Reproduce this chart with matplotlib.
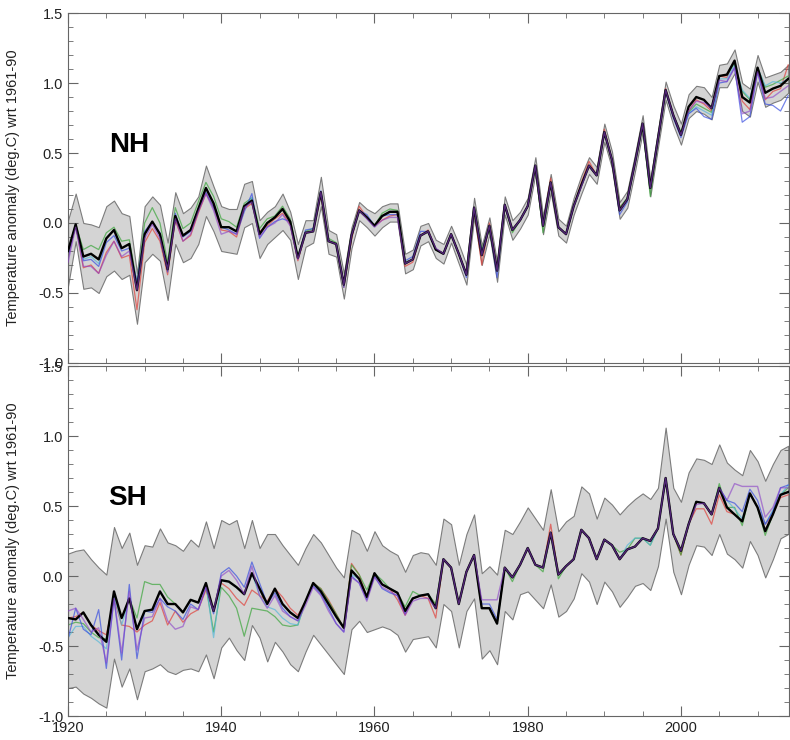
import numpy as np
import matplotlib.pyplot as plt
from matplotlib.ticker import MultipleLocator

plt.rcParams['font.family'] = ['Liberation Sans', 'DejaVu Sans']
plt.rcParams['axes.unicode_minus'] = False

years = np.arange(1920, 2015)

# Northern hemisphere: best estimate and uncertainty band
nh_mean = [-0.20, -0.01, -0.24, -0.22, -0.26, -0.11, -0.05, -0.18, -0.15, -0.48,
           -0.08, 0.01, -0.08, -0.33, 0.05, -0.09, -0.05, 0.10, 0.25, 0.14,
           -0.03, -0.03, -0.06, 0.12, 0.16, -0.08, 0.00, 0.04, 0.10, 0.01,
           -0.25, -0.07, -0.06, 0.22, -0.13, -0.15, -0.44, -0.09, 0.09, 0.04,
           -0.02, 0.05, 0.08, 0.08, -0.29, -0.26, -0.09, -0.06, -0.19, -0.22,
           -0.08, -0.22, -0.37, 0.11, -0.23, -0.02, -0.34, 0.13, -0.05, 0.02,
           0.12, 0.41, -0.02, 0.29, -0.03, -0.08, 0.12, 0.27, 0.41, 0.34,
           0.65, 0.45, 0.09, 0.17, 0.43, 0.71, 0.25, 0.60, 0.95, 0.77,
           0.63, 0.83, 0.90, 0.88, 0.82, 1.05, 1.06, 1.16, 0.90, 0.86,
           1.11, 0.93, 0.96, 0.98, 1.03]
nh_upper = [0.02, 0.21, 0.00, -0.01, -0.03, 0.12, 0.16, 0.07, 0.05, -0.36,
            0.12, 0.19, 0.13, -0.14, 0.22, 0.07, 0.11, 0.19, 0.41, 0.26,
            0.12, 0.10, 0.10, 0.28, 0.30, 0.02, 0.08, 0.12, 0.21, 0.08,
            -0.15, 0.02, 0.02, 0.33, -0.05, -0.08, -0.36, -0.03, 0.15, 0.10,
            0.07, 0.12, 0.14, 0.14, -0.22, -0.19, -0.02, 0.00, -0.12, -0.15,
            -0.02, -0.15, -0.30, 0.18, -0.16, 0.04, -0.28, 0.19, 0.02, 0.08,
            0.18, 0.47, 0.05, 0.35, 0.03, -0.02, 0.18, 0.34, 0.47, 0.40,
            0.71, 0.51, 0.15, 0.23, 0.49, 0.77, 0.31, 0.66, 1.01, 0.84,
            0.71, 0.92, 0.98, 0.97, 0.90, 1.13, 1.14, 1.24, 1.00, 0.96,
            1.20, 1.04, 1.06, 1.08, 1.13]
nh_lower = [-0.45, -0.13, -0.47, -0.46, -0.50, -0.38, -0.34, -0.40, -0.37, -0.72,
            -0.28, -0.22, -0.27, -0.55, -0.15, -0.28, -0.25, -0.15, 0.05, -0.06,
            -0.20, -0.21, -0.22, -0.03, 0.00, -0.25, -0.15, -0.10, -0.05, -0.12,
            -0.40, -0.17, -0.14, 0.12, -0.22, -0.24, -0.54, -0.18, 0.02, -0.03,
            -0.09, -0.03, 0.01, 0.01, -0.36, -0.33, -0.16, -0.13, -0.25, -0.29,
            -0.14, -0.29, -0.44, 0.04, -0.30, -0.08, -0.42, 0.06, -0.12, -0.04,
            0.06, 0.35, -0.08, 0.22, -0.09, -0.14, 0.06, 0.21, 0.35, 0.28,
            0.58, 0.39, 0.03, 0.11, 0.37, 0.65, 0.19, 0.54, 0.88, 0.70,
            0.56, 0.75, 0.80, 0.78, 0.74, 0.97, 0.97, 1.07, 0.80, 0.76,
            1.01, 0.83, 0.86, 0.88, 0.93]

# the other NH series, as differences from the black line
nh_red = [-0.05, 0.00, -0.08, -0.08, -0.10, -0.10, -0.08, -0.07, -0.08, -0.14,
          -0.06, -0.05, -0.05, -0.04, -0.03, -0.04, -0.04, -0.03, -0.04, -0.03,
          -0.02, -0.03, -0.04, -0.02, -0.02, 0.02, -0.02, -0.01, -0.03, -0.02,
          -0.02, 0.00, 0.00, -0.02, 0.00, 0.00, -0.02, -0.03, 0.03, 0.00,
          0.00, -0.03, -0.03, -0.02, -0.02, -0.02, 0.00, 0.01, 0.00, 0.00,
          0.00, 0.00, 0.00, -0.01, -0.07, 0.02, 0.00, 0.00, 0.00, 0.00,
          0.00, 0.00, 0.00, 0.03, 0.00, 0.00, 0.00, 0.02, 0.03, 0.00,
          0.02, 0.00, 0.02, 0.00, 0.00, 0.00, 0.00, 0.00, 0.01, 0.00,
          0.00, -0.03, -0.02, -0.03, -0.02, 0.00, -0.02, 0.00, -0.03, -0.05,
          0.00, -0.05, -0.02, -0.02, 0.10]
nh_green = [0.00, 0.00, 0.05, 0.06, 0.07, 0.04, 0.02, 0.05, 0.03, 0.05,
            0.08, 0.10, 0.08, 0.05, 0.06, 0.05, 0.05, 0.05, 0.04, 0.05,
            0.06, 0.04, 0.03, 0.02, 0.02, 0.04, 0.03, 0.01, 0.02, 0.02,
            0.01, 0.01, 0.02, 0.00, 0.02, 0.01, 0.00, 0.01, 0.00, 0.00,
            0.00, 0.02, 0.02, 0.01, 0.01, 0.00, 0.00, 0.00, 0.00, 0.00,
            0.00, 0.00, 0.00, 0.00, 0.04, -0.03, 0.00, 0.00, -0.02, 0.00,
            0.00, 0.00, -0.05, 0.00, 0.00, 0.00, 0.00, 0.00, 0.00, 0.00,
            0.00, 0.00, 0.02, 0.01, 0.00, -0.02, -0.06, 0.00, 0.00, 0.00,
            0.02, -0.04, -0.05, -0.06, -0.03, 0.00, 0.00, -0.02, 0.04, 0.02,
            0.00, 0.04, 0.03, 0.04, 0.02]
nh_cyan = [0.00, 0.00, -0.02, -0.02, -0.03, 0.00, 0.00, 0.00, 0.00, 0.00,
           0.00, 0.00, 0.00, 0.00, 0.00, 0.00, 0.00, 0.00, 0.00, 0.00,
           0.00, 0.00, 0.00, 0.00, 0.02, 0.00, 0.00, 0.00, 0.00, 0.00,
           0.00, 0.00, 0.00, 0.00, 0.00, 0.00, 0.00, 0.00, 0.00, 0.00,
           0.00, 0.00, 0.00, 0.00, 0.00, 0.00, 0.00, 0.00, 0.00, 0.00,
           0.00, 0.00, 0.00, 0.00, 0.00, 0.00, 0.00, 0.00, 0.00, 0.00,
           0.00, 0.00, 0.00, 0.00, 0.00, 0.00, 0.00, 0.00, 0.00, 0.00,
           0.00, 0.00, 0.00, 0.00, 0.00, 0.00, 0.00, 0.00, 0.00, 0.00,
           0.00, -0.05, -0.07, -0.08, -0.05, -0.02, -0.03, -0.03, 0.05, 0.03,
           0.00, 0.05, 0.05, 0.02, 0.00]
nh_blue = [-0.05, 0.00, -0.03, -0.04, -0.05, -0.03, -0.04, -0.02, -0.03, 0.06,
           0.02, 0.00, 0.01, -0.02, 0.02, -0.01, -0.01, 0.00, -0.03, -0.03,
           0.00, -0.02, -0.02, -0.04, 0.05, -0.03, -0.03, -0.03, -0.07, 0.00,
           0.00, 0.02, 0.02, 0.01, 0.00, 0.00, -0.02, 0.00, 0.00, 0.02,
           0.00, 0.00, -0.02, -0.02, 0.02, 0.02, 0.03, 0.00, 0.00, 0.00,
           0.00, 0.00, -0.02, 0.00, 0.02, 0.00, -0.05, 0.00, 0.00, 0.00,
           0.00, 0.00, 0.00, 0.00, 0.00, 0.00, 0.00, 0.00, 0.00, 0.00,
           0.00, 0.00, -0.03, -0.02, 0.00, 0.00, 0.00, 0.00, -0.01, -0.02,
           -0.02, -0.05, -0.08, -0.12, -0.08, -0.05, -0.05, -0.05, -0.18, -0.10,
           -0.03, -0.08, -0.12, -0.18, -0.12]
nh_purple = [-0.08, -0.02, -0.07, -0.09, -0.10, -0.12, -0.08, -0.06, -0.05, 0.00,
             -0.03, -0.02, -0.03, 0.00, -0.02, -0.04, -0.03, -0.02, -0.04, -0.05,
             -0.05, -0.03, -0.02, -0.01, -0.01, -0.02, -0.03, -0.04, -0.04, -0.03,
             -0.01, 0.00, 0.00, 0.00, 0.00, 0.00, 0.00, 0.00, 0.00, -0.01,
             -0.01, -0.03, -0.04, -0.04, 0.00, 0.00, 0.00, 0.00, 0.01, 0.00,
             0.00, 0.00, 0.00, 0.00, 0.00, 0.00, 0.00, 0.00, 0.00, 0.00,
             0.00, 0.00, 0.00, 0.00, 0.00, 0.00, 0.00, -0.01, 0.00, 0.00,
             0.00, 0.00, 0.00, 0.00, 0.00, 0.00, 0.00, 0.00, 0.00, 0.00,
             0.00, -0.03, -0.03, -0.02, 0.00, -0.03, -0.05, -0.05, -0.12, -0.06,
             -0.03, -0.04, -0.06, -0.04, -0.05]

# Southern hemisphere
sh_mean = [-0.30, -0.31, -0.26, -0.35, -0.42, -0.47, -0.11, -0.30, -0.16, -0.38,
           -0.25, -0.24, -0.11, -0.20, -0.20, -0.26, -0.17, -0.19, -0.05, -0.25,
           -0.03, -0.04, -0.08, -0.13, 0.02, -0.09, -0.20, -0.09, -0.20, -0.26,
           -0.30, -0.18, -0.05, -0.11, -0.20, -0.29, -0.37, 0.04, -0.02, -0.15,
           0.02, -0.06, -0.09, -0.12, -0.25, -0.16, -0.14, -0.13, -0.23, 0.12,
           0.06, -0.20, 0.03, 0.15, -0.23, -0.23, -0.34, 0.06, -0.01, 0.08,
           0.20, 0.08, 0.06, 0.31, 0.01, 0.07, 0.12, 0.33, 0.27, 0.12,
           0.26, 0.22, 0.12, 0.19, 0.21, 0.27, 0.25, 0.34, 0.70, 0.30,
           0.18, 0.37, 0.53, 0.52, 0.44, 0.63, 0.49, 0.44, 0.39, 0.59,
           0.49, 0.32, 0.44, 0.58, 0.60]
sh_upper = [0.16, 0.18, 0.19, 0.12, 0.06, 0.01, 0.35, 0.20, 0.31, 0.08,
            0.22, 0.21, 0.34, 0.24, 0.22, 0.18, 0.26, 0.21, 0.39, 0.20,
            0.40, 0.37, 0.40, 0.20, 0.40, 0.20, 0.30, 0.30, 0.22, 0.15,
            0.08, 0.20, 0.30, 0.24, 0.15, 0.06, -0.01, 0.33, 0.30, 0.18,
            0.32, 0.22, 0.18, 0.15, 0.03, 0.15, 0.17, 0.16, 0.08, 0.41,
            0.37, 0.08, 0.30, 0.44, 0.02, 0.07, 0.01, 0.33, 0.30, 0.39,
            0.49, 0.41, 0.33, 0.62, 0.32, 0.39, 0.43, 0.64, 0.59, 0.41,
            0.56, 0.51, 0.44, 0.50, 0.55, 0.59, 0.55, 0.63, 1.06, 0.63,
            0.53, 0.74, 0.84, 0.83, 0.80, 0.94, 0.81, 0.76, 0.72, 0.90,
            0.82, 0.68, 0.80, 0.90, 0.93]
sh_lower = [-0.80, -0.79, -0.84, -0.87, -0.91, -0.94, -0.59, -0.79, -0.66, -0.88,
            -0.68, -0.66, -0.63, -0.68, -0.70, -0.67, -0.66, -0.68, -0.56, -0.73,
            -0.51, -0.44, -0.53, -0.60, -0.35, -0.44, -0.61, -0.47, -0.54, -0.63,
            -0.68, -0.54, -0.42, -0.49, -0.56, -0.63, -0.70, -0.38, -0.32, -0.40,
            -0.38, -0.36, -0.38, -0.42, -0.54, -0.45, -0.44, -0.43, -0.51, -0.20,
            -0.25, -0.51, -0.25, -0.16, -0.59, -0.53, -0.63, -0.25, -0.31, -0.13,
            -0.11, -0.17, -0.23, -0.06, -0.29, -0.25, -0.16, 0.02, -0.04, -0.20,
            -0.04, -0.11, -0.22, -0.15, -0.07, -0.05, -0.10, 0.07, 0.41, 0.03,
            -0.13, 0.08, 0.22, 0.21, 0.15, 0.30, 0.16, 0.12, 0.06, 0.25,
            0.15, -0.01, 0.12, 0.27, 0.30]

sh_red = [0.00, 0.02, 0.00, 0.00, 0.03, 0.05, -0.05, -0.05, -0.20, -0.02,
          -0.10, -0.08, -0.08, -0.15, -0.05, -0.07, -0.10, -0.05, -0.05, 0.00,
          -0.02, -0.05, -0.08, -0.08, -0.12, -0.05, 0.02, 0.00, 0.05, 0.03,
          0.02, 0.00, 0.00, 0.02, 0.03, 0.02, 0.00, 0.05, 0.03, 0.00,
          0.00, 0.00, 0.00, -0.05, -0.03, 0.00, 0.00, -0.03, -0.07, 0.00,
          0.00, 0.00, 0.00, 0.00, 0.00, 0.00, 0.00, 0.00, 0.00, 0.00,
          0.00, 0.00, 0.00, 0.06, 0.00, 0.00, 0.00, 0.00, 0.00, 0.00,
          0.00, 0.00, 0.00, 0.00, 0.00, 0.00, 0.00, 0.00, 0.00, 0.00,
          -0.03, 0.00, -0.05, -0.04, -0.07, -0.05, -0.03, 0.00, 0.00, 0.00,
          0.00, 0.05, 0.00, -0.02, -0.02]
sh_green = [-0.05, -0.02, -0.08, -0.05, -0.02, 0.02, -0.03, 0.00, 0.00, 0.08,
            0.21, 0.18, 0.05, 0.05, 0.00, 0.00, 0.00, 0.00, -0.02, -0.15,
            -0.05, -0.10, -0.15, -0.30, -0.25, -0.15, -0.05, -0.20, -0.15, -0.10,
            -0.05, 0.00, 0.00, 0.02, 0.02, 0.02, 0.00, 0.04, 0.03, 0.05,
            0.00, 0.03, 0.00, 0.00, 0.03, 0.05, 0.00, 0.00, 0.03, 0.00,
            0.00, 0.00, 0.00, 0.00, 0.00, 0.00, 0.00, 0.00, -0.03, 0.00,
            0.00, 0.00, -0.03, 0.00, -0.03, 0.00, 0.00, 0.00, 0.00, 0.00,
            0.00, 0.00, 0.05, 0.00, 0.06, 0.00, -0.03, 0.00, 0.00, 0.00,
            -0.03, 0.00, 0.00, 0.00, 0.00, 0.03, 0.00, 0.05, -0.03, 0.00,
            0.00, -0.03, 0.00, 0.00, 0.03]
sh_cyan = [-0.14, -0.05, -0.10, -0.08, -0.05, -0.05, -0.03, -0.05, 0.00, 0.00,
           0.00, 0.00, 0.00, 0.00, 0.00, 0.00, 0.00, 0.00, 0.00, -0.19,
           0.00, 0.00, 0.00, 0.00, 0.00, -0.05, -0.02, -0.15, -0.10, -0.08,
           -0.05, 0.00, 0.00, 0.00, 0.00, 0.00, 0.00, -0.03, 0.00, 0.00,
           0.00, 0.00, 0.00, 0.00, 0.00, 0.00, 0.00, 0.00, 0.00, 0.00,
           0.00, 0.00, 0.00, 0.00, 0.00, 0.00, 0.00, 0.00, 0.00, 0.00,
           0.00, 0.00, 0.00, 0.00, 0.00, 0.00, 0.00, 0.00, 0.00, 0.00,
           0.00, 0.00, 0.00, 0.03, 0.06, 0.00, -0.03, 0.00, 0.00, 0.00,
           0.00, 0.00, 0.00, 0.00, 0.00, 0.00, 0.05, 0.04, 0.02, 0.00,
           0.00, 0.05, 0.03, 0.00, 0.05]
sh_blue = [-0.15, 0.08, -0.12, -0.07, 0.18, -0.19, -0.05, -0.30, 0.10, -0.21,
           0.00, -0.02, -0.05, -0.02, -0.05, -0.05, -0.03, -0.05, -0.03, -0.02,
           0.05, 0.10, 0.08, 0.05, 0.08, 0.04, 0.00, -0.03, -0.03, -0.03,
           -0.02, 0.00, -0.02, -0.02, -0.03, -0.05, -0.03, -0.04, -0.03, -0.02,
           -0.02, -0.03, -0.03, -0.02, -0.02, 0.00, 0.00, 0.00, 0.00, 0.00,
           0.00, 0.00, 0.00, 0.00, 0.03, 0.03, 0.03, 0.00, 0.00, 0.00,
           0.00, 0.00, 0.00, 0.00, 0.00, 0.00, 0.00, 0.00, 0.00, 0.00,
           0.00, 0.00, 0.00, 0.00, 0.00, 0.00, 0.00, 0.00, 0.00, 0.00,
           0.00, 0.00, 0.00, 0.00, 0.00, 0.00, 0.05, 0.08, 0.07, 0.03,
           0.05, 0.05, 0.02, 0.05, 0.05]
sh_purple = [0.05, 0.08, -0.05, -0.05, 0.05, -0.15, -0.05, -0.25, 0.05, -0.15,
             -0.05, -0.05, -0.05, -0.12, -0.18, -0.10, -0.05, -0.05, -0.03, 0.00,
             0.03, 0.08, 0.05, 0.00, 0.05, -0.05, -0.03, -0.05, -0.05, -0.03,
             -0.02, -0.03, -0.03, -0.03, -0.05, -0.05, -0.03, -0.05, -0.03, -0.03,
             -0.03, -0.02, -0.02, -0.02, -0.03, -0.02, -0.02, -0.03, 0.00, 0.00,
             0.00, 0.00, 0.00, 0.00, 0.06, 0.06, 0.17, 0.00, 0.00, 0.00,
             0.00, 0.00, 0.00, 0.00, 0.00, 0.00, 0.00, 0.00, 0.00, 0.00,
             0.00, 0.00, 0.00, 0.00, 0.00, 0.00, 0.00, 0.00, 0.00, 0.00,
             0.00, 0.00, -0.02, 0.00, 0.00, 0.00, 0.05, 0.22, 0.25, 0.05,
             0.15, 0.10, 0.05, 0.05, 0.03]

colores = ['#e0403a', '#3aa53a', '#55b8d8', '#3a4fe0']
color_morado = '#8a3fc8'


def panel(ax, nombre, media, sup, inf, otras, morado):
    media = np.array(media)
    ax.fill_between(years, inf, sup, facecolor='#d4d4d4', edgecolor='#7c7c7c',
                    linewidth=0.8, zorder=1)
    for color, d in zip(colores, otras):
        ax.plot(years, media + np.array(d), color=color, lw=0.9, alpha=0.7, zorder=2)
    ax.plot(years, media, color='black', lw=1.7, zorder=3)
    ax.plot(years, media + np.array(morado), color=color_morado, lw=1.0,
            alpha=0.6, zorder=4)

    ax.text(1925.3, 0.56, nombre, fontsize=20, fontweight='bold', va='center')
    ax.set_xlim(1920, 2014.1)
    ax.set_ylim(-1.0, 1.5)
    ax.xaxis.set_major_locator(MultipleLocator(20))
    ax.xaxis.set_minor_locator(MultipleLocator(5))
    ax.yaxis.set_major_locator(MultipleLocator(0.5))
    ax.yaxis.set_minor_locator(MultipleLocator(0.1))
    ax.yaxis.set_major_formatter('{x:.1f}')
    ax.tick_params(which='both', direction='in', top=True, right=True,
                   color='#666666', labelsize=10.5, labelcolor='#222222')
    ax.tick_params(which='major', length=7)
    ax.tick_params(which='minor', length=3.5)
    for s in ax.spines.values():
        s.set_color('#666666')
    ax.set_ylabel('Temperature anomaly (deg.C) wrt 1961-90', fontsize=10.5,
                  color='#222222')
    ax.yaxis.set_label_coords(-0.066, 0.5)


fig = plt.figure(figsize=(7.9, 7.4), dpi=100)
ax1 = fig.add_axes([0.0861, 0.5095, 0.9126, 0.4729])
ax2 = fig.add_axes([0.0861, 0.0324, 0.9126, 0.4730])

panel(ax1, 'NH', nh_mean, nh_upper, nh_lower,
      [nh_red, nh_green, nh_cyan, nh_blue], nh_purple)
panel(ax2, 'SH', sh_mean, sh_upper, sh_lower,
      [sh_red, sh_green, sh_cyan, sh_blue], sh_purple)
ax1.tick_params(labelbottom=False)

fig.savefig('out.png', dpi=100)
